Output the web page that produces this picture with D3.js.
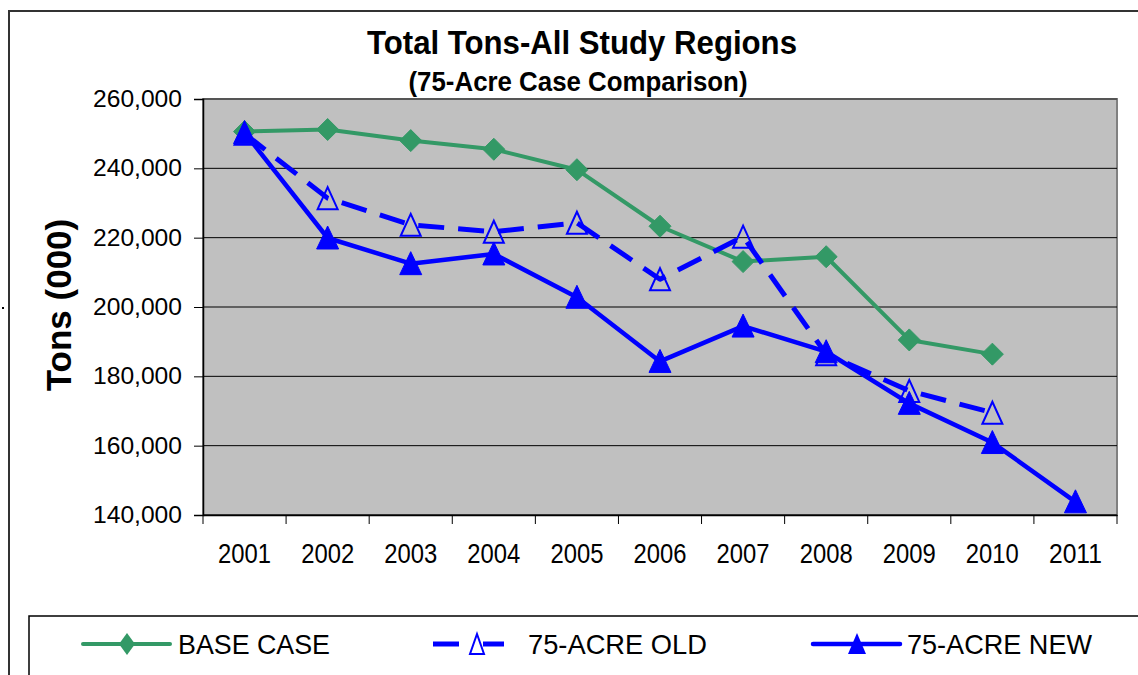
<!DOCTYPE html>
<html>
<head>
<meta charset="utf-8">
<script src="https://cdn.jsdelivr.net/npm/d3@7"></script>
<style>
  body { margin: 0; background: #fff; }
  text { font-family: "Liberation Sans", Arial, sans-serif; }
</style>
</head>
<body>
<div id="viz-container"></div>
<script>
// data
let years = ["2001", "2002", "2003", "2004", "2005", "2006", "2007", "2008", "2009", "2010", "2011"];
let baseCase = [250600, 251200, 248000, 245500, 239600, 223300, 213100, 214500, 190500, 186400, null];
let acreOld = [250000, 231400, 223700, 221700, 224300, 208000, 220300, 186400, 175800, 169500, null];
let acreNew = [250300, 219900, 212500, 215300, 202800, 184300, 194500, 187100, 172200, 160900, 143800];
let yTicks = [140000, 160000, 180000, 200000, 220000, 240000, 260000];
let seriesNames = ["BASE CASE", "75-ACRE OLD", "75-ACRE NEW"];

let W = 1138, H = 675;
let plot = {left: 203, right: 1117, top: 99, bottom: 515};

let viz = d3.select("#viz-container")
    .append("svg")
        .attr("width", W)
        .attr("height", H);

// outer chart frame
viz.append("rect")
    .attr("x", 9).attr("y", 11)
    .attr("width", 1150).attr("height", 700)
    .attr("fill", "#fff")
    .attr("stroke", "#333")
    .attr("stroke-width", 2);
// stray dot left of the frame
viz.append("rect").attr("x", 2).attr("y", 307).attr("width", 2).attr("height", 2).attr("fill", "#000");

let x = d3.scaleBand().domain(years).range([plot.left, plot.right]).padding(0);
let y = d3.scaleLinear().domain([140000, 260000]).range([plot.bottom, plot.top]);
let cx = d => x(d) + x.bandwidth() / 2;

// plot area
viz.append("rect")
    .attr("x", plot.left).attr("y", plot.top)
    .attr("width", plot.right - plot.left).attr("height", plot.bottom - plot.top)
    .attr("fill", "#c0c0c0")
    .attr("stroke", "#808080")
    .attr("stroke-width", 2);

// gridlines
viz.selectAll(".grid").data(yTicks).enter()
    .append("line")
        .attr("x1", plot.left).attr("x2", plot.right)
        .attr("y1", d => y(d)).attr("y2", d => y(d))
        .attr("stroke", d => d == 260000 ? "#555" : "#000")
        .attr("stroke-width", d => d == 260000 ? 2 : 1);

// y axis
let yAxis = viz.append("g")
    .attr("transform", `translate(${plot.left},0)`)
    .call(d3.axisLeft(y).tickValues(yTicks).tickSize(9).tickPadding(12).tickFormat(d3.format(",")));
yAxis.select(".domain").attr("stroke", "#000").attr("stroke-width", 1.5);
yAxis.selectAll(".tick line").attr("stroke", "#000");
yAxis.selectAll("text")
    .attr("font-size", 23)
    .attr("fill", "#000")
    .attr("textLength", 89)
    .attr("lengthAdjust", "spacingAndGlyphs")
    .style("font-family", "'Liberation Sans', Arial, sans-serif");

// x axis
let xAxis = viz.append("g")
    .attr("transform", `translate(0,${plot.bottom})`)
    .call(d3.axisBottom(x).tickSize(0).tickPadding(28));
xAxis.select(".domain").attr("stroke", "#000").attr("stroke-width", 1.5);
xAxis.selectAll("text")
    .attr("font-size", 28)
    .attr("fill", "#000")
    .attr("textLength", 53)
    .attr("lengthAdjust", "spacingAndGlyphs")
    .style("font-family", "'Liberation Sans', Arial, sans-serif");
// category boundary ticks
let bounds = years.map(d => x(d)).concat([x.range()[1]]);
viz.selectAll(".xtick").data(bounds).enter()
    .append("line")
        .attr("x1", d => d).attr("x2", d => d)
        .attr("y1", plot.bottom).attr("y2", plot.bottom + 9)
        .attr("stroke", "#000");

// titles
viz.append("text")
    .attr("x", 582).attr("y", 54)
    .attr("text-anchor", "middle")
    .attr("font-size", 34).attr("font-weight", "bold")
    .attr("textLength", 430).attr("lengthAdjust", "spacingAndGlyphs")
    .text("Total Tons-All Study Regions");
viz.append("text")
    .attr("x", 578).attr("y", 91)
    .attr("text-anchor", "middle")
    .attr("font-size", 27).attr("font-weight", "bold")
    .attr("textLength", 339).attr("lengthAdjust", "spacingAndGlyphs")
    .text("(75-Acre Case Comparison)");
viz.append("text")
    .attr("transform", "translate(71,305) rotate(-90)")
    .attr("text-anchor", "middle")
    .attr("font-size", 35).attr("font-weight", "bold")
    .text("Tons (000)");

// markers
let diamond = "M0,-11L11,0L0,11L-11,0Z";
let triangle = "M0,-12L11,11L-11,11Z";
let openTriangle = "M0,-11L10,11L-10,11Z";

let styles = [
    {values: baseCase, color: "#339966", width: 4, dash: null, marker: diamond, fill: "#339966"},
    {values: acreOld, color: "#0000ff", width: 5, dash: "26,14", marker: openTriangle, fill: "none"},
    {values: acreNew, color: "#0000ff", width: 4.5, dash: null, marker: triangle, fill: "#0000ff"}
];

let line = d3.line()
    .defined(d => d.v != null)
    .x(d => cx(d.year))
    .y(d => y(d.v));

styles.forEach(s => {
    let pts = years.map((yr, i) => ({year: yr, v: s.values[i]}));
    viz.append("path")
        .datum(pts)
        .attr("d", line)
        .attr("fill", "none")
        .attr("stroke", s.color)
        .attr("stroke-width", s.width)
        .attr("stroke-dasharray", s.dash)
        .attr("stroke-linejoin", "round");
    viz.selectAll(null).data(pts.filter(d => d.v != null)).enter()
        .append("path")
            .attr("d", s.marker)
            .attr("transform", d => `translate(${cx(d.year)},${y(d.v)})`)
            .attr("fill", s.fill)
            .attr("stroke", s.color)
            .attr("stroke-width", s.fill == "none" ? 2 : 1);
});

// legend
viz.append("rect")
    .attr("x", 29).attr("y", 616)
    .attr("width", 1150).attr("height", 100)
    .attr("fill", "#fff")
    .attr("stroke", "#000")
    .attr("stroke-width", 1.5);

let legendX = [83, 433, 813];
let legendTextX = [178, 528, 907];
let legendTextW = [152, 179, 185];
let ly = 644;
styles.forEach((s, i) => {
    let g = viz.append("g");
    if (s.dash) {
        g.append("line").attr("x1", legendX[i]).attr("x2", legendX[i] + 26)
            .attr("y1", ly).attr("y2", ly)
            .attr("stroke", s.color).attr("stroke-width", s.width);
        g.append("line").attr("x1", legendX[i] + 50).attr("x2", legendX[i] + 71)
            .attr("y1", ly).attr("y2", ly)
            .attr("stroke", s.color).attr("stroke-width", s.width);
        g.append("path").attr("d", "M0,-10L7,10L-7,10Z")
            .attr("transform", `translate(${legendX[i] + 44},${ly})`)
            .attr("fill", "none").attr("stroke", s.color).attr("stroke-width", 2);
    } else {
        g.append("line").attr("x1", legendX[i]).attr("x2", legendX[i] + 87)
            .attr("y1", ly).attr("y2", ly)
            .attr("stroke", s.color).attr("stroke-width", s.width)
            .attr("stroke-linecap", "round");
        g.append("path").attr("d", i == 0 ? "M0,-11L8,0L0,11L-8,0Z" : "M0,-11L9,10L-9,10Z")
            .attr("transform", `translate(${legendX[i] + 44},${ly})`)
            .attr("fill", s.fill);
    }
    g.append("text")
        .attr("x", legendTextX[i]).attr("y", 654)
        .attr("font-size", 28)
        .attr("textLength", legendTextW[i]).attr("lengthAdjust", "spacingAndGlyphs")
        .text(seriesNames[i]);
});
</script>
</body>
</html>
